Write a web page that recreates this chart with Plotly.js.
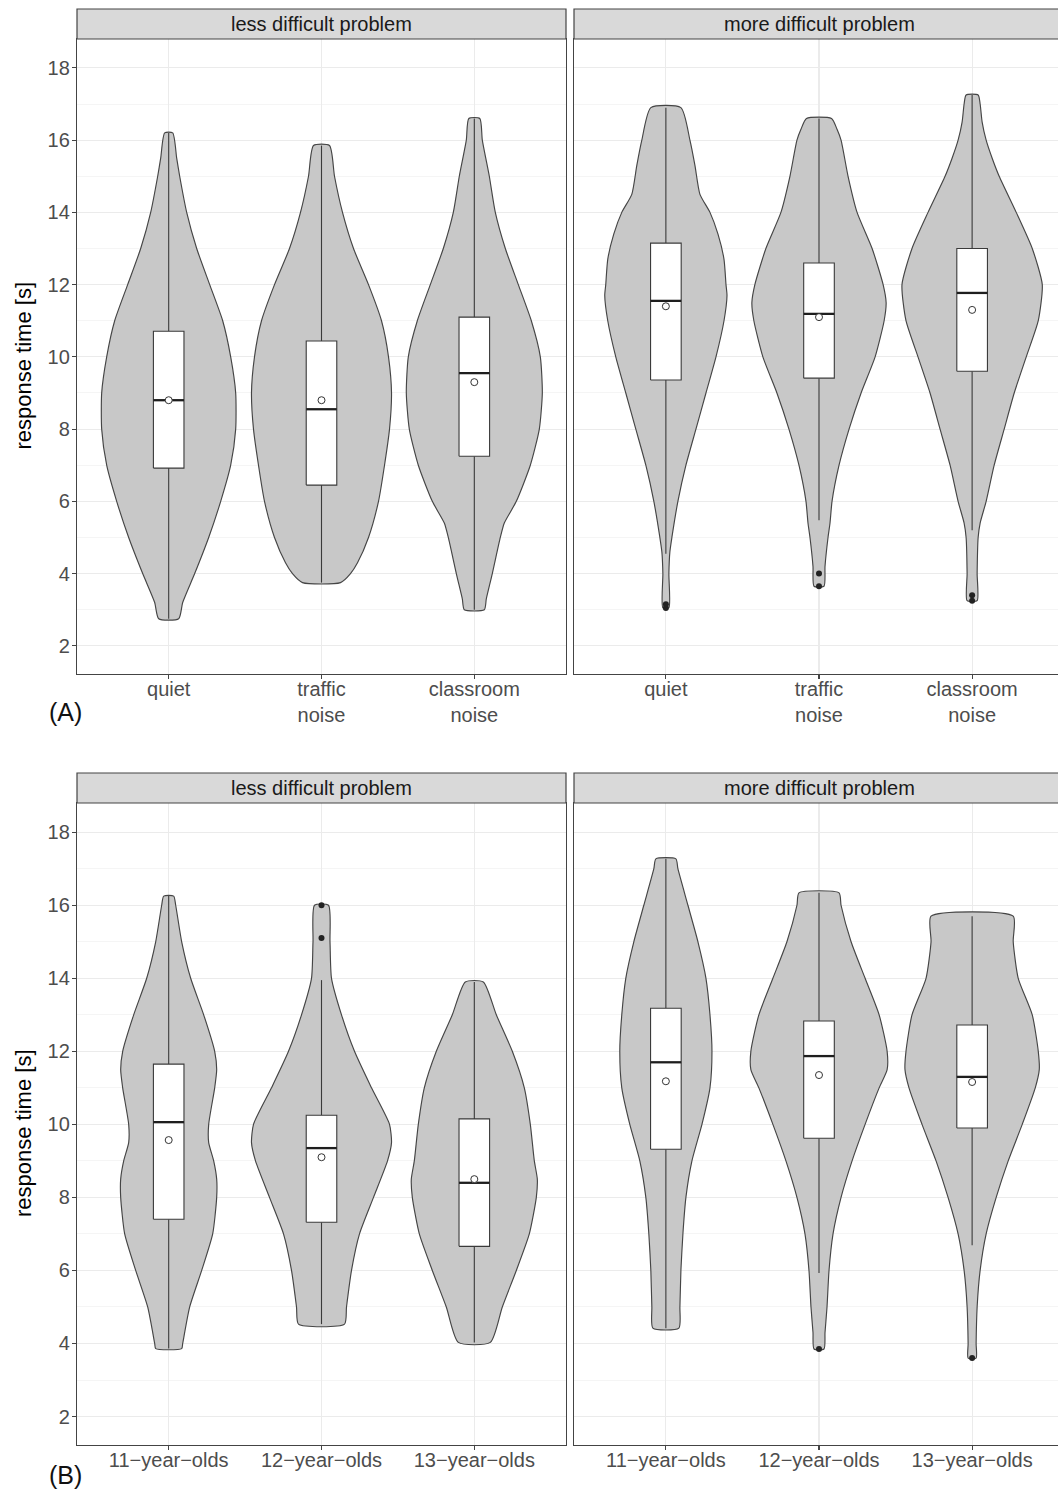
<!DOCTYPE html>
<html><head><meta charset="utf-8">
<script src="https://cdn.plot.ly/plotly-3.0.1.min.js"></script>
<style>html,body{margin:0;padding:0;overflow:hidden;background:#fff}#chart{width:1066px;height:1493px}</style>
</head><body><div id="chart"></div><script>
// ---------------- DATA ----------------
const noiseCats = ['quiet', 'traffic<br>noise', 'classroom<br>noise'];
const ageCats = ['11\u2212year\u2212olds', '12\u2212year\u2212olds', '13\u2212year\u2212olds'];
const panelTitles = ['less difficult problem', 'more difficult problem'];
const rowLabels = ['(A)', '(B)'];
const yTitle = 'response time [s]';

// Violin outlines: y levels and relative density (half-width)
const A_less_quiet_vy = [2.75,3.2,4,5,6,7,8,9,10,11,12,13,14,15,15.5,16.2];
const A_less_quiet_vd = [10,14,26,40,52,62,67,67,62,54,41,28,18,11,8,4];
const A_less_traffic_vy = [3.75,4,4.3,5,6,7,8,9,10,11,12,13,14,15,15.85];
const A_less_traffic_vd = [19,29,36,47,57,63,68,70,67,60,47,32,21,13,8];
const A_less_class_vy = [3.0,3.3,4,5,5.4,6,7,8,9,10,11,12,13,14,15,16,16.6];
const A_less_class_vd = [10,12,18,26,30,42,56,65,68,66,57,44,31,21,15,8,5.5];

const A_more_quiet_vy = [3.05,4,4.6,5,6,7,8,9,10,11,11.7,12,12.7,13.4,14,14.5,15.3,16,16.9];
const A_more_quiet_vd = [3,3,4,6,12,20,30,40,50,58,61,60,58,52,44,34,29,24,15];
const A_more_traffic_vy = [3.65,4.2,5,5.4,6,7,8,9,10,11,11.5,12,13,14,15,16,16.3,16.6];
const A_more_traffic_vd = [5,6,9,11,13,20,30,42,56,65,67,64,53,38,29,22,18,12.5];
const A_more_class_vy = [3.25,4,5,5.4,6,7,8,9,10,11,12,13,14,15,15.5,16,16.5,17,17.25];
const A_more_class_vd = [5,5,6,8,14,22,32,42,54,66,70,60,44,27,20,14,10,8,6];

const B_less_11_vy = [3.86,4,5,6,7,8,8.5,9,9.5,10,11,11.5,12,13,14,15,16,16.25];
const B_less_11_vd = [13,14,21,33,44,48,48,45,40,40,46,48,46,35,22,13,7,5];
const B_less_12_vy = [4.53,5,6,7,8,9,9.5,10,11,12,13,14,15,16];
const B_less_12_vd = [23,25,30,38,52,66,70,68,50,33,20,10,8.5,7];
const B_less_13_vy = [4.03,5,6,7,8,8.5,9,10,11,12,13,13.9];
const B_less_13_vd = [16,28,42,55,62,63,60,56,50,38,22,9];

const B_more_11_vy = [4.42,5,6,7,8,9,10,11,12,13,14,15,16,17,17.27];
const B_more_11_vd = [13,14,15,17,20,26,36,44,46,44,40,32,22,12,10];
const B_more_12_vy = [3.85,4.3,5,6,7,8,9,10,11,11.5,12,13,14,15,16,16.34];
const B_more_12_vd = [5,6,8,10,14,22,33,46,60,68,68,60,46,32,22,20];
const B_more_13_vy = [3.6,4,5,6,7,8,9,10,11,11.5,12,13,14,15,15.7];
const B_more_13_vd = [4,4,5,8,14,24,36,50,63,67,66,60,46,41,41];

// Box statistics per panel (3 groups each)
const A_less_q1 = [6.92, 6.45, 7.25];
const A_less_median = [8.8, 8.55, 9.55];
const A_less_q3 = [10.71, 10.44, 11.1];
const A_less_whiskLo = [2.75, 3.75, 3.0];
const A_less_whiskHi = [16.2, 15.85, 16.6];
const A_less_mean = [8.8, 8.8, 9.3];
const A_less_outliers = [[], [], []];

const A_more_q1 = [9.36, 9.41, 9.6];
const A_more_median = [11.55, 11.19, 11.77];
const A_more_q3 = [13.15, 12.6, 13.0];
const A_more_whiskLo = [4.55, 5.48, 5.2];
const A_more_whiskHi = [16.9, 16.6, 17.25];
const A_more_mean = [11.4, 11.1, 11.3];
const A_more_outliers = [[3.05, 3.15], [4.0, 3.65], [3.25, 3.4]];

const B_less_q1 = [7.4, 7.32, 6.66];
const B_less_median = [10.06, 9.35, 8.4];
const B_less_q3 = [11.65, 10.25, 10.15];
const B_less_whiskLo = [3.86, 4.53, 4.03];
const B_less_whiskHi = [16.25, 13.95, 13.9];
const B_less_mean = [9.57, 9.1, 8.5];
const B_less_outliers = [[], [15.1, 16.0], []];

const B_more_q1 = [9.32, 9.62, 9.9];
const B_more_median = [11.7, 11.87, 11.3];
const B_more_q3 = [13.18, 12.83, 12.72];
const B_more_whiskLo = [4.42, 5.93, 6.69];
const B_more_whiskHi = [17.27, 16.34, 15.7];
const B_more_mean = [11.18, 11.35, 11.16];
const B_more_outliers = [[], [3.85], [3.6]];

// ---------------- BUILD ----------------
const W = 1066, H = 1493;
const DENS_SCALE = 1 / 152.8;   // density units -> category-axis units
const BOX_HALF = 0.1;
const groupPos = [1, 2, 3];

const panels = [
  {xa:'x',  ya:'y',  v:[[A_less_quiet_vy,A_less_quiet_vd],[A_less_traffic_vy,A_less_traffic_vd],[A_less_class_vy,A_less_class_vd]],
   q1:A_less_q1, med:A_less_median, q3:A_less_q3, lo:A_less_whiskLo, hi:A_less_whiskHi, mean:A_less_mean, out:A_less_outliers},
  {xa:'x2', ya:'y2', v:[[A_more_quiet_vy,A_more_quiet_vd],[A_more_traffic_vy,A_more_traffic_vd],[A_more_class_vy,A_more_class_vd]],
   q1:A_more_q1, med:A_more_median, q3:A_more_q3, lo:A_more_whiskLo, hi:A_more_whiskHi, mean:A_more_mean, out:A_more_outliers},
  {xa:'x3', ya:'y3', v:[[B_less_11_vy,B_less_11_vd],[B_less_12_vy,B_less_12_vd],[B_less_13_vy,B_less_13_vd]],
   q1:B_less_q1, med:B_less_median, q3:B_less_q3, lo:B_less_whiskLo, hi:B_less_whiskHi, mean:B_less_mean, out:B_less_outliers},
  {xa:'x4', ya:'y4', v:[[B_more_11_vy,B_more_11_vd],[B_more_12_vy,B_more_12_vd],[B_more_13_vy,B_more_13_vd]],
   q1:B_more_q1, med:B_more_median, q3:B_more_q3, lo:B_more_whiskLo, hi:B_more_whiskHi, mean:B_more_mean, out:B_more_outliers}
];

const LINE = '#3a3a3a';
const traces = [];
panels.forEach(p => {
  // violins
  p.v.forEach((vv, i) => {
    const ys = vv[0], ds = vv[1], c = groupPos[i];
    const xs = [], yy = [];
    for (let k = 0; k < ys.length; k++) { xs.push(c - ds[k]*DENS_SCALE); yy.push(ys[k]); }
    for (let k = ys.length - 1; k >= 0; k--) { xs.push(c + ds[k]*DENS_SCALE); yy.push(ys[k]); }
    xs.push(xs[0]); yy.push(yy[0]);
    traces.push({type:'scatter', mode:'lines', x:xs, y:yy, xaxis:p.xa, yaxis:p.ya,
      fill:'toself', fillcolor:'#C8C8C8', line:{color:'#454545', width:1.15, shape:'spline', smoothing:0.6},
      hoverinfo:'skip', showlegend:false});
  });
  // boxes (whiskers, box body, thick median)
  groupPos.forEach((c, i) => {
    traces.push({type:'scatter', mode:'lines', x:[c, c, null, c, c], y:[p.lo[i], p.q1[i], null, p.q3[i], p.hi[i]],
      xaxis:p.xa, yaxis:p.ya, line:{color:LINE, width:1.1}, showlegend:false, hoverinfo:'skip'});
    traces.push({type:'scatter', mode:'lines',
      x:[c-BOX_HALF, c+BOX_HALF, c+BOX_HALF, c-BOX_HALF, c-BOX_HALF],
      y:[p.q1[i], p.q1[i], p.q3[i], p.q3[i], p.q1[i]],
      xaxis:p.xa, yaxis:p.ya, fill:'toself', fillcolor:'#FFFFFF', line:{color:LINE, width:1.1},
      showlegend:false, hoverinfo:'skip'});
    traces.push({type:'scatter', mode:'lines', x:[c-BOX_HALF, c+BOX_HALF], y:[p.med[i], p.med[i]],
      xaxis:p.xa, yaxis:p.ya, line:{color:'#1e1e1e', width:2.3}, showlegend:false, hoverinfo:'skip'});
  });
  // means
  traces.push({type:'scatter', mode:'markers', x:groupPos, y:p.mean, xaxis:p.xa, yaxis:p.ya,
    marker:{symbol:'circle', size:7, color:'#FFFFFF', line:{color:'#333', width:1}}, showlegend:false, hoverinfo:'skip'});
  // outliers
  const ox = [], oy = [];
  p.out.forEach((arr, i) => arr.forEach(v => { ox.push(groupPos[i]); oy.push(v); }));
  if (ox.length) traces.push({type:'scatter', mode:'markers', x:ox, y:oy, xaxis:p.xa, yaxis:p.ya,
    marker:{size:6, color:'#222'}, showlegend:false, hoverinfo:'skip'});
});

const FONT = '"Liberation Sans", Arial, sans-serif';
const leftX = [77/W, 566/W], rightX = [574/W, 1064/W];
const topY = [1 - 674/H, 1 - 39/H], botY = [1 - 1445/H, 1 - 803/H];

function xax(dom, anchor, cats) {
  return {domain:dom, anchor:anchor, range:[0.4, 3.6], tickmode:'array', tickvals:groupPos, ticktext:cats,
    showline:true, mirror:true, linecolor:'#444', linewidth:1.2, zeroline:false,
    showgrid:true, gridcolor:'#EBEBEB', gridwidth:1.1,
    ticks:'outside', ticklen:4, tickcolor:'#444', tickwidth:1.1, ticklabelstandoff:-7,
    tickfont:{family:FONT, size:20, color:'#4D4D4D'}, fixedrange:true};
}
function yax(dom, anchor, labels) {
  return {domain:dom, anchor:anchor, range:[1.22, 18.8], tickmode:'linear', tick0:0, dtick:2,
    showline:true, mirror:true, linecolor:'#444', linewidth:1.2, zeroline:false,
    showgrid:true, gridcolor:'#EBEBEB', gridwidth:1.1,
    minor:{dtick:1, tick0:0, showgrid:true, gridcolor:'#F3F3F3', gridwidth:0.8, ticks:''},
    ticks: labels ? 'outside' : '', ticklen:4, tickcolor:'#444', tickwidth:1.1, showticklabels:labels,
    ticklabelstandoff:-2,
    tickfont:{family:FONT, size:20, color:'#4D4D4D'}, fixedrange:true};
}

const shapes = [], annotations = [];
[[39, 9], [803, 773]].forEach(([b, t]) => {
  [leftX, rightX].forEach((xd, j) => {
    shapes.push({type:'rect', xref:'paper', yref:'paper', x0:xd[0], x1:xd[1], y0:1-b/H, y1:1-t/H,
      fillcolor:'#D9D9D9', line:{color:'#444', width:1.2}, layer:'above'});
    annotations.push({xref:'paper', yref:'paper', x:(xd[0]+xd[1])/2, y:1-(b+t)/2/H, text:panelTitles[j],
      showarrow:false, xanchor:'center', yanchor:'middle', font:{family:FONT, size:20, color:'#1A1A1A'}});
  });
});
[[topY, rowLabels[0], 712], [botY, rowLabels[1], 1475]].forEach(([yd, lab, ly]) => {
  annotations.push({xref:'paper', yref:'paper', x:23/W, y:(yd[0]+yd[1])/2 - 9/H, text:yTitle, textangle:-90,
    showarrow:false, xanchor:'center', yanchor:'middle', font:{family:FONT, size:22, color:'#000'}});
  annotations.push({xref:'paper', yref:'paper', x:65/W, y:1-ly/H, text:lab,
    showarrow:false, xanchor:'center', yanchor:'middle', font:{family:FONT, size:25, color:'#111'}});
});

const layout = {
  width:W, height:H, margin:{l:0, r:0, t:0, b:0}, paper_bgcolor:'#fff', plot_bgcolor:'#fff',
  showlegend:false,
  xaxis: xax(leftX, 'y', noiseCats), yaxis: yax(topY, 'x', true),
  xaxis2: xax(rightX, 'y2', noiseCats), yaxis2: yax(topY, 'x2', false),
  xaxis3: xax(leftX, 'y3', ageCats), yaxis3: yax(botY, 'x3', true),
  xaxis4: xax(rightX, 'y4', ageCats), yaxis4: yax(botY, 'x4', false),
  shapes:shapes, annotations:annotations
};
Plotly.newPlot('chart', traces, layout, {staticPlot:true, displayModeBar:false});
</script></body></html>
